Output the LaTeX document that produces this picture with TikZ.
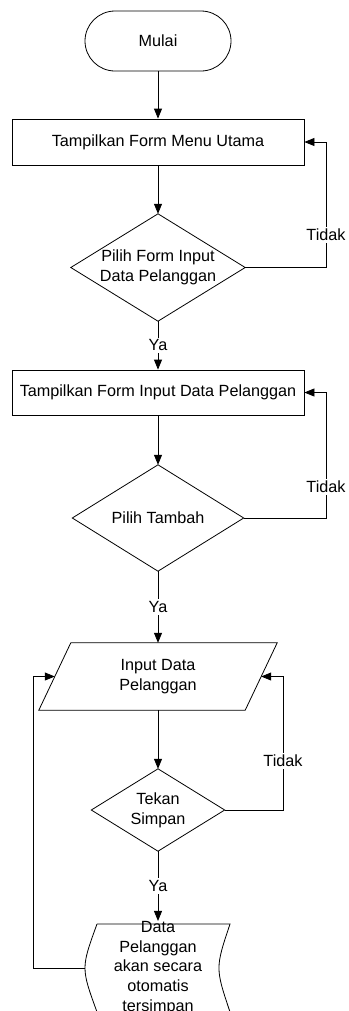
\documentclass[tikz,border=0pt]{standalone}
\usepackage{fontspec}
\setmainfont{Liberation Sans}
\usetikzlibrary{arrows.meta,calc}

\begin{document}
\begin{tikzpicture}[x=1bp,y=-1bp,
  every node/.style={font=\fontsize{16.2bp}{19.8bp}\selectfont, inner sep=0pt, text=black},
  line/.style={draw=black, line width=0.8bp},
  arr/.style={line, -{Triangle[length=10bp,width=8bp]}},
  procbox/.style={line, rectangle, minimum width=292bp, minimum height=46bp},
  ghost/.style={rectangle, align=center},
  lbl/.style={fill=white, inner sep=2bp},
]
\useasboundingbox (0,0) rectangle (348,1011);

% terminal
\node[line, rectangle, rounded corners=30bp, minimum width=146bp, minimum height=60bp] (start) at (158,41) {Mulai};

% main menu
\node[procbox] (r1) at (158,142) {Tampilkan Form Menu Utama};

% decision: open customer form
\node[ghost, minimum width=174bp, minimum height=107bp] (d1) at (158,267.5) {Pilih Form Input\\Data Pelanggan};
\draw[line] (d1.north) -- (d1.east) -- (d1.south) -- (d1.west) -- cycle;

% customer form
\node[procbox, minimum height=45bp] (r2) at (158,392.5) {Tampilkan Form Input Data Pelanggan};

% decision: add
\node[ghost, minimum width=171bp, minimum height=106bp] (d2) at (158,518) {Pilih Tambah};
\draw[line] (d2.north) -- (d2.east) -- (d2.south) -- (d2.west) -- cycle;

% input parallelogram
\node[ghost, minimum width=238bp, minimum height=67bp] (p) at (158,676.5) {Input Data\\Pelanggan};
\draw[line] ($(p.north west)+(32,0)$) -- (p.north east) -- ($(p.south east)-(32,0)$) -- (p.south west) -- cycle;
\coordinate (pl) at ($(p.west)+(16,0)$);
\coordinate (pr) at ($(p.east)-(16,0)$);

% decision: save
\node[ghost, minimum width=133bp, minimum height=82bp] (d3) at (158,810) {Tekan\\Simpan};
\draw[line] (d3.north) -- (d3.east) -- (d3.south) -- (d3.west) -- cycle;

% stored data
\node[ghost, minimum width=146bp, minimum height=88bp] (doc) at (158,968) {Data\\Pelanggan\\akan secara\\otomatis\\tersimpan};
\draw[line] (97,924) -- (230,924) .. controls (215.3,968) .. (230,1012) -- (97,1012) .. controls (81,968) .. (97,924);
\coordinate (docl) at (85,968);

% main flow
\draw[arr] (start.south) -- (r1.north);
\draw[arr] (r1.south) -- (d1.north);
\draw[arr] (d1.south) -- node[lbl] (ya1) {Ya} (r2.north);
\draw[arr] (r2.south) -- (d2.north);
\draw[arr] (d2.south) -- node[lbl] (ya2) {Ya} (p.north);
\draw[arr] (p.south) -- (d3.north);
\draw[arr] (d3.south) -- node[lbl] (ya3) {Ya} (doc.north);

% "Tidak" loops
\draw[arr] (d1.east) -- ++(81,0) |- (r1.east);
\node[lbl] (tl1) at (326,235) {Tidak};
\draw[arr] (d2.east) -- ++(83,0) |- (r2.east);
\node[lbl] (tl2) at (326,487) {Tidak};
\draw[arr] (d3.east) -- ++(59,0) |- (pr);
\node[lbl] (tl3) at (283,761) {Tidak};

% back to input
\draw[arr] (docl) -- ++(-52,0) |- (pl);
\end{tikzpicture}
\end{document}
